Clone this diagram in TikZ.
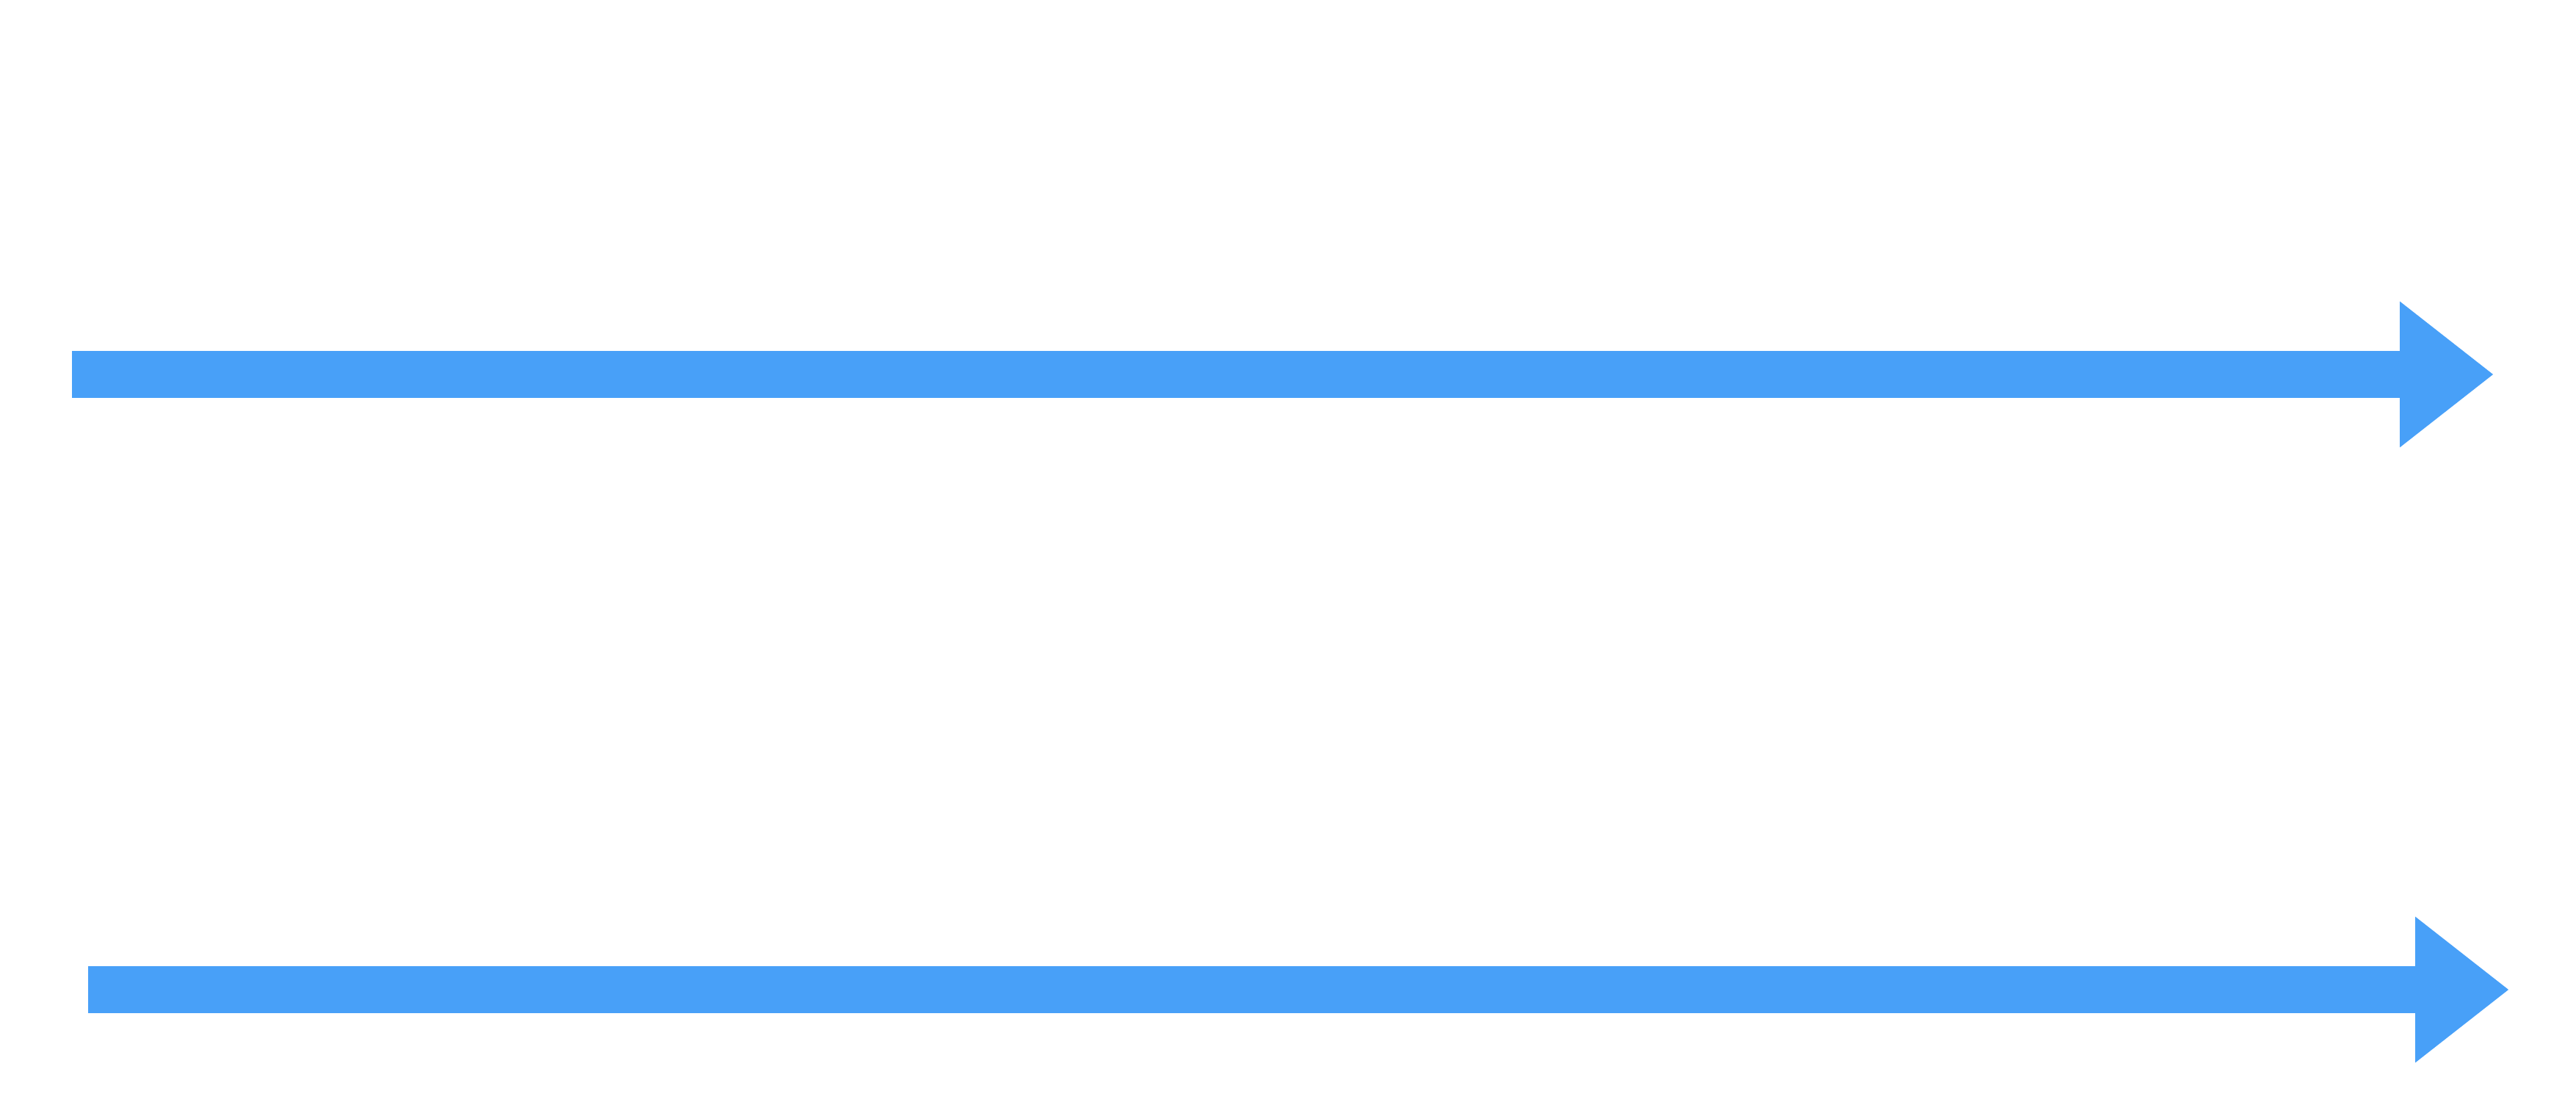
\documentclass[tikz,border=0pt]{standalone}
\usetikzlibrary{arrows.meta}
\definecolor{arrowblue}{RGB}{72,160,248}
\tikzset{bigarrow/.style={arrowblue, line width=0.64cm, -{Triangle[length=1.27cm, width=1.99cm, line width=0pt]}}}
\begin{document}
\begin{tikzpicture}
      \useasboundingbox (0,0) rectangle (35.08,15.16);
      \coordinate (topstart) at (0.98,10.06);
      \coordinate (topend) at (33.95,10.06);
      \coordinate (botstart) at (1.20,1.68);
      \coordinate (botend) at (34.16,1.68);
      \draw[bigarrow] (topstart) -- (topend);
      \draw[bigarrow] (botstart) -- (botend);
    \end{tikzpicture}
\end{document}
